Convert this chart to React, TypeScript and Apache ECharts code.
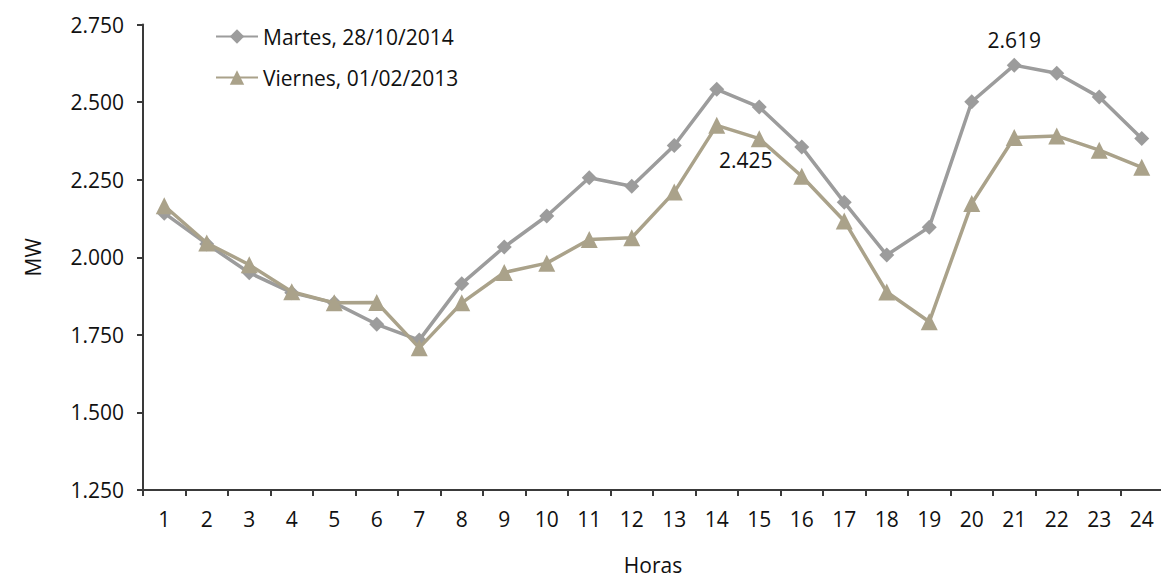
import React, { useEffect, useRef } from "react";
import * as echarts from "echarts";

const hours = ["1","2","3","4","5","6","7","8","9","10","11","12","13","14","15","16","17","18","19","20","21","22","23","24"];
const martes = [2142, 2043, 1950, 1886, 1853, 1784, 1733, 1915, 2033, 2133, 2256, 2229, 2360, 2541, 2484, 2355, 2177, 2007, 2097, 2501, 2619, 2593, 2516, 2383];
const viernes = [2166, 2046, 1976, 1889, 1853, 1854, 1708, 1853, 1951, 1981, 2057, 2063, 2210, 2425, 2382, 2261, 2117, 1888, 1792, 2173, 2386, 2391, 2345, 2290];
const seriesNames = ["Martes, 28/10/2014", "Viernes, 01/02/2013"];
const labelIndexMartes = 20;
const labelIndexViernes = 13;

const fmt = (v: number) => {
  const s = String(Math.round(v));
  return s.length > 3 ? s.slice(0, s.length - 3) + "." + s.slice(s.length - 3) : s;
};

const FONT = "'Open Sans', sans-serif";
const FS = 21;

export default function App() {
  const ref = useRef<HTMLDivElement>(null);
  useEffect(() => {
    if (!ref.current) return;
    const chart = echarts.init(ref.current, null, { renderer: "svg" });
    const gray = "#9c9c9c";
    const tan = "#aaa28a";
    chart.setOption({
      animation: false,
      textStyle: { fontFamily: FONT },
      legend: {
        left: 210,
        top: 21,
        orient: "vertical",
        itemGap: 20,
        itemWidth: 42,
        itemHeight: 18,
        textStyle: { fontFamily: FONT, fontSize: FS, color: "#111" },
        data: seriesNames,
      },
      grid: { left: 143, top: 24.5, width: 1020, height: 465.5, outerBoundsMode: "none", containLabel: false },
      xAxis: {
        type: "category",
        data: hours,
        boundaryGap: true,
        name: "Horas",
        nameLocation: "middle",
        nameGap: 64,
        nameTextStyle: { fontFamily: FONT, fontSize: FS, color: "#111" },
        axisLine: { lineStyle: { color: "#3a3a3a", width: 2 } },
        axisTick: { show: true, length: 6, lineStyle: { color: "#3a3a3a", width: 2 } },
        axisLabel: { fontFamily: FONT, fontSize: FS, color: "#111", margin: 18 },
      },
      yAxis: {
        type: "value",
        min: 1250,
        max: 2750,
        interval: 250,
        name: "MW",
        nameLocation: "middle",
        nameGap: 100,
        nameTextStyle: { fontFamily: FONT, fontSize: FS, color: "#111" },
        splitLine: { show: false },
        axisLine: { show: true, lineStyle: { color: "#3a3a3a", width: 2 } },
        axisTick: { show: true, length: 6, lineStyle: { color: "#3a3a3a", width: 2 } },
        axisLabel: { fontFamily: FONT, fontSize: FS, color: "#111", margin: 19, formatter: (v: number) => fmt(v) },
      },
      series: [
        {
          name: seriesNames[0],
          type: "line",
          data: martes.map((v, i) =>
            i === labelIndexMartes
              ? { value: v, label: { show: true, position: "top", distance: 7, formatter: (p: any) => fmt(p.value), fontFamily: FONT, fontSize: FS, color: "#111" } }
              : v
          ),
          symbol: "diamond",
          symbolSize: 15,
          lineStyle: { color: gray, width: 3.5 },
          itemStyle: { color: gray },
          z: 2,
        },
        {
          name: seriesNames[1],
          type: "line",
          data: viernes.map((v, i) =>
            i === labelIndexViernes
              ? { value: v, label: { show: true, position: "bottom", distance: 16, offset: [29, 0], formatter: (p: any) => fmt(p.value), fontFamily: FONT, fontSize: FS, color: "#111" } }
              : v
          ),
          symbol: "triangle",
          symbolSize: 17,
          lineStyle: { color: tan, width: 3.5 },
          itemStyle: { color: tan },
          z: 3,
        },
      ],
    });
    return () => chart.dispose();
  }, []);
  return <div ref={ref} style={{ position: "absolute", left: 0, top: 0, width: 1161, height: 579 }} />;
}
